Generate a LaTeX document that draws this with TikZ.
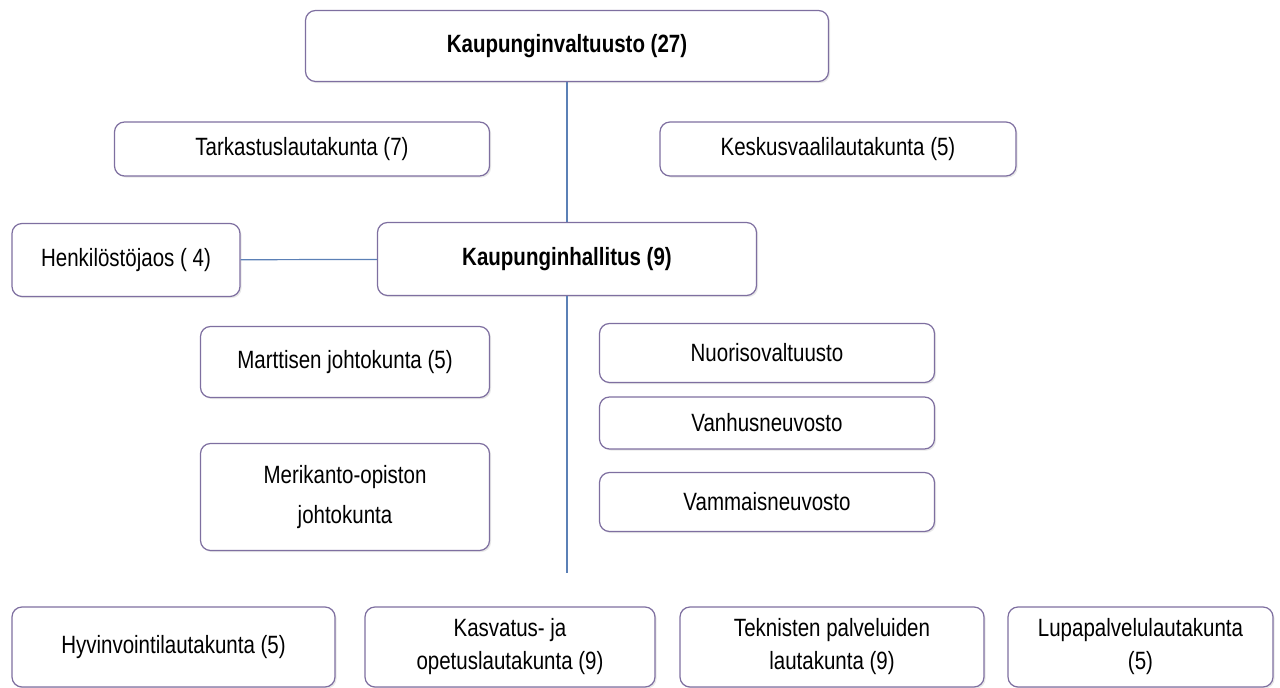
\documentclass[tikz,border=0pt]{standalone}
\usepackage{fontspec}
\setmainfont[FakeStretch=0.82]{Liberation Sans}
\usetikzlibrary{shadows}
\definecolor{reuna}{HTML}{7E6FA0}
\definecolor{viiva}{HTML}{5B80B6}
\begin{document}
\begin{tikzpicture}[x=0.5pt,y=-0.5pt,font=\fontsize{12.5}{16.5}\selectfont,
	elin/.style={rectangle,rounded corners=5pt,draw=reuna,fill=white,line width=0.6pt,align=center,inner sep=2pt,drop shadow={opacity=0.18,shadow xshift=0.8pt,shadow yshift=-0.8pt}},
	paa/.style={elin,font=\fontsize{12.5}{16.5}\selectfont\bfseries},
	yhteys/.style={draw=viiva,line width=0.6pt}]
	\useasboundingbox (0,0) rectangle (1280,688);
	\node[paa, minimum width=261.5pt, minimum height=35.5pt] (kv) at (567,46) {Kaupunginvaltuusto (27)};
	\node[elin, minimum width=187.5pt, minimum height=27pt] (tark) at (302,149) {Tarkastuslautakunta (7)};
	\node[elin, minimum width=178pt, minimum height=27pt] (kesk) at (838,149) {Keskusvaalilautakunta (5)};
	\node[paa, minimum width=189.5pt, minimum height=36.5pt] (kh) at (567,259) {Kaupunginhallitus (9)};
	\node[elin, minimum width=114pt, minimum height=36.5pt] (henk) at (126,260) {Henkilöstöjaos ( 4)};

	\node[elin, minimum width=144.5pt, minimum height=35.5pt] (mart) at (345,362) {Marttisen johtokunta (5)};
	\node[elin, minimum width=144.5pt, minimum height=53.5pt] (meri) at (345,497) {Merikanto-opiston\\[3.5pt]johtokunta};
	\node[elin, minimum width=167.5pt, minimum height=29.5pt] (nuor) at (767,353) {Nuorisovaltuusto};
	\node[elin, minimum width=167.5pt, minimum height=26pt] (vanh) at (767,423) {Vanhusneuvosto};
	\node[elin, minimum width=167.5pt, minimum height=29.5pt] (vamm) at (767,502) {Vammaisneuvosto};

	\node[elin, minimum width=161.5pt, minimum height=40pt] (hyv) at (173.5,647) {Hyvinvointilautakunta (5)};
	\node[elin, minimum width=145pt, minimum height=40pt] (kasv) at (510,647) {Kasvatus- ja\\opetuslautakunta (9)};
	\node[elin, minimum width=152pt, minimum height=40pt] (tekn) at (832,647) {Teknisten palveluiden\\lautakunta (9)};
	\node[elin, minimum width=132.5pt, minimum height=40pt] (lupa) at (1140.5,647) {Lupapalvelulautakunta\\(5)};

	\coordinate (alas) at (567,573);
	\draw[yhteys] (kv) -- (kh);
	\draw[yhteys] (henk) -- (kh);
	\draw[yhteys] (kh) -- (alas);
\end{tikzpicture}
\end{document}
